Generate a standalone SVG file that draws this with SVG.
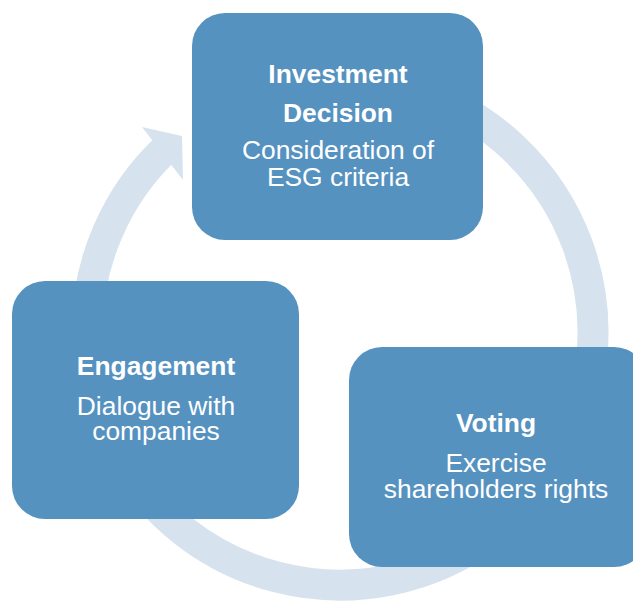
<svg xmlns="http://www.w3.org/2000/svg" width="633" height="602" viewBox="0 0 633 602">
  <style>
    .box { fill: #5592C0; }
    .ring { fill: none; stroke: #D6E3EE; stroke-width: 31; }
    .head { fill: #D6E3EE; }
    text { font-family: "Liberation Sans", Arial, sans-serif; font-size: 26.4px; fill: #FFFFFF; text-anchor: middle; }
    .title { font-weight: bold; }
  </style>
  <rect width="633" height="602" fill="#FFFFFF"/>
  <g id="connectors">
    <path class="ring" d="M 167.5 147 A 253 253 0 1 0 426.5 94.3"/>
    <polygon class="head" points="142,127 182,136 183,180"/>
  </g>
  <g id="investment-decision">
    <rect class="box" x="192" y="13" width="291" height="227" rx="33" ry="33"/>
    <text class="title" x="338" y="83">Investment</text>
    <text class="title" x="338" y="122">Decision</text>
    <text x="338" y="159">Consideration of</text>
    <text x="338" y="186">ESG criteria</text>
  </g>
  <g id="engagement">
    <rect class="box" x="12" y="281" width="287" height="238" rx="33" ry="33"/>
    <text class="title" x="156" y="375">Engagement</text>
    <text x="156" y="415">Dialogue with</text>
    <text x="156" y="440">companies</text>
  </g>
  <g id="voting">
    <rect class="box" x="349" y="347" width="298" height="220" rx="33" ry="33"/>
    <text class="title" x="496" y="432">Voting</text>
    <text x="496" y="472">Exercise</text>
    <text x="496" y="498">shareholders rights</text>
  </g>
</svg>
